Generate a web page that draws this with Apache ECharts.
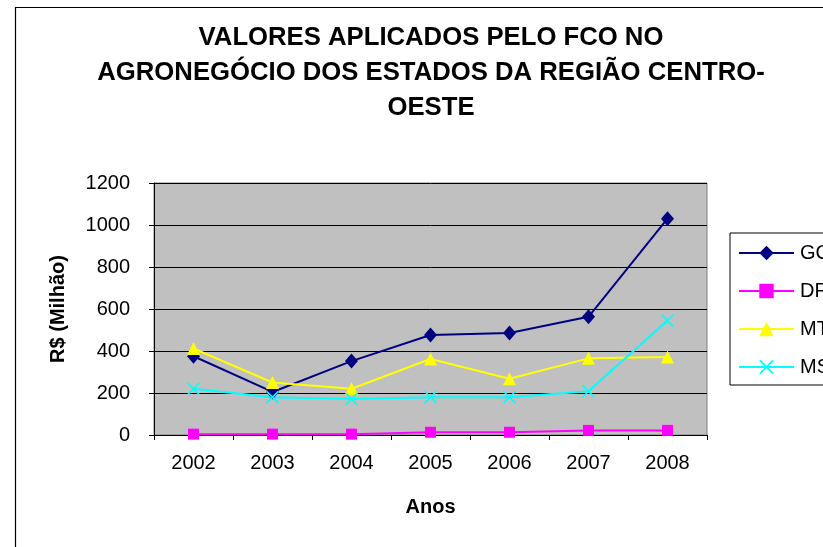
<!DOCTYPE html>
<html>
<head>
<meta charset="utf-8">
<script src="https://cdn.jsdelivr.net/npm/echarts@6/dist/echarts.min.js"></script>
<style>
html,body{margin:0;padding:0;background:#fff;}
#main{width:823px;height:547px;}
</style>
</head>
<body>
<div id="main"></div>
<script>
// dados do grafico
var anos = ['2002', '2003', '2004', '2005', '2006', '2007', '2008'];
var seriesNames = ['GO', 'DF', 'MT', 'MS'];
var valoresGO = [375, 205, 352, 476, 486, 563, 1030];
var valoresDF = [4, 4, 4, 13, 13, 22, 22];
var valoresMT = [412, 250, 220, 362, 268, 365, 372];
var valoresMS = [220, 180, 172, 180, 180, 208, 545];
var yTicks = [0, 200, 400, 600, 800, 1000, 1200];

var fonte = 'Liberation Sans, Arial, sans-serif';
var xis = 'path://M0,1L1,0L6,5L11,0L12,1L7,6L12,11L11,12L6,7L1,12L0,11L5,6Z';

var myChart = echarts.init(document.getElementById('main'));

function linha(nome, dados, cor, simbolo, tam) {
	return {
		name: nome,
		type: 'line',
		data: dados,
		symbol: simbolo,
		symbolSize: tam,
		showAllSymbol: true,
		lineStyle: {color: cor, width: 2},
		itemStyle: {color: cor, borderWidth: 0},
		emphasis: {disabled: true}
	};
}

var option = {
	animation: false,
	backgroundColor: '#ffffff',
	graphic: [
		{
			type: 'rect',
			shape: {x: 15.5, y: 7.5, width: 900, height: 600},
			style: {fill: 'none', stroke: '#000', lineWidth: 1.2},
			silent: true
		},
		{
			type: 'text',
			x: 431,
			y: 20,
			style: {
				text: 'VALORES APLICADOS PELO FCO NO\nAGRONEGÓCIO DOS ESTADOS DA REGIÃO CENTRO-\nOESTE',
				font: 'bold 25.7px ' + fonte,
				fill: '#000',
				align: 'center',
				verticalAlign: 'top',
				lineHeight: 35
			},
			silent: true
		}
	],
	grid: {
		left: 154,
		top: 183,
		width: 553,
		height: 252,
		show: true,
		backgroundColor: '#c0c0c0',
		borderColor: '#808080',
		borderWidth: 1
	},
	legend: {
		data: seriesNames,
		orient: 'vertical',
		left: 730,
		top: 233,
		padding: [10, 40, 8, 8],
		itemGap: 18,
		itemWidth: 55,
		itemHeight: 18,
		borderColor: '#000',
		borderWidth: 1,
		backgroundColor: '#fff',
		textStyle: {fontSize: 20, fontFamily: fonte, color: '#000', padding: [0, 0, 0, 1]}
	},
	xAxis: {
		type: 'category',
		data: anos,
		boundaryGap: true,
		name: 'Anos',
		nameLocation: 'middle',
		nameGap: 62,
		nameTextStyle: {fontSize: 20, fontWeight: 'bold', fontFamily: fonte, color: '#000'},
		axisLine: {lineStyle: {color: '#000', width: 1}},
		axisTick: {show: true, length: 5, inside: false, lineStyle: {color: '#000'}},
		axisLabel: {fontSize: 20, fontFamily: fonte, color: '#000', margin: 18},
		splitLine: {show: false}
	},
	yAxis: {
		type: 'value',
		min: yTicks[0],
		max: yTicks[yTicks.length - 1],
		interval: 200,
		name: 'R$ (Milhão)',
		nameLocation: 'middle',
		nameGap: 86,
		nameRotate: 90,
		nameTextStyle: {fontSize: 20, fontWeight: 'bold', fontFamily: fonte, color: '#000'},
		axisLine: {show: true, lineStyle: {color: '#000', width: 1}},
		axisTick: {show: true, length: 5, inside: false, lineStyle: {color: '#000'}},
		axisLabel: {
			fontSize: 20, fontFamily: fonte, color: '#000', margin: 24,
			formatter: function (v) { return String(v); }
		},
		splitLine: {show: true, lineStyle: {color: '#000', width: 1}}
	},
	series: [
		linha('GO', valoresGO, '#000080', 'diamond', [13, 15]),
		linha('DF', valoresDF, '#ff00ff', 'rect', 11),
		linha('MT', valoresMT, '#ffff00', 'triangle', 13),
		linha('MS', valoresMS, '#00ffff', xis, 13)
	]
};

myChart.setOption(option);
</script>
</body>
</html>
